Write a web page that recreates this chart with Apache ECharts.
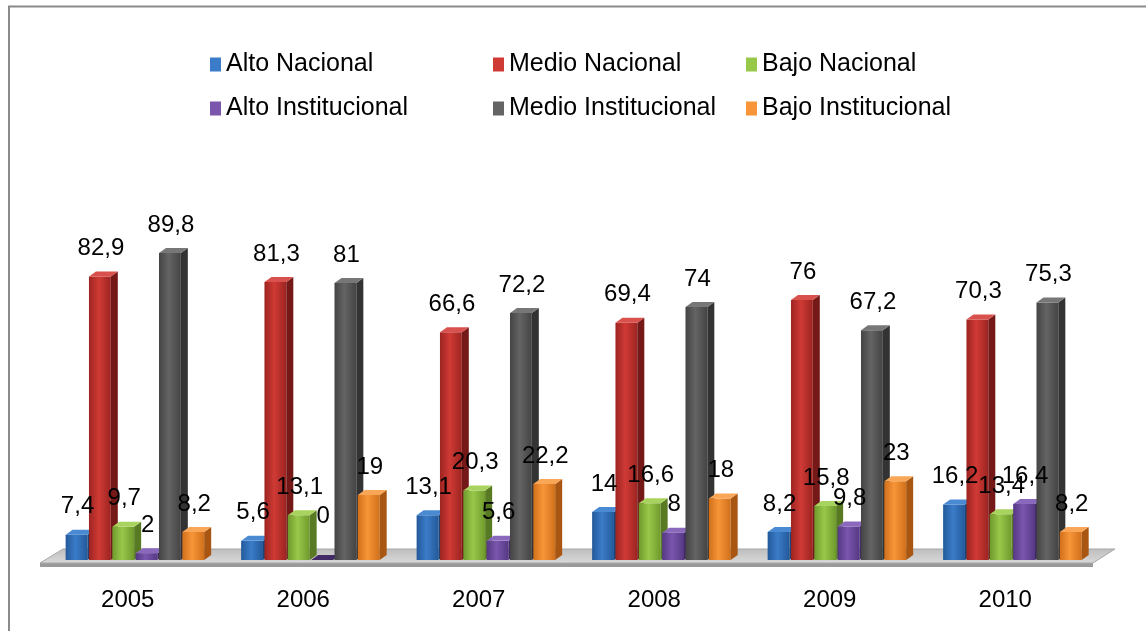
<!DOCTYPE html>
<html>
<head>
<meta charset="utf-8">
<script src="https://cdn.jsdelivr.net/npm/echarts@6/dist/echarts.min.js"></script>
<style>
  html, body { margin: 0; padding: 0; background: #fff; }
  #main { width: 1146px; height: 631px; }
</style>
</head>
<body>
<div id="main"></div>
<script>
var years = ['2005', '2006', '2007', '2008', '2009', '2010'];
var seriesNames = ['Alto Nacional', 'Medio Nacional', 'Bajo Nacional', 'Alto Institucional', 'Medio Institucional', 'Bajo Institucional'];
var altoNacional = [7.4, 5.6, 13.1, 14, 8.2, 16.2];
var medioNacional = [82.9, 81.3, 66.6, 69.4, 76, 70.3];
var bajoNacional = [9.7, 13.1, 20.3, 16.6, 15.8, 13.4];
var altoInstitucional = [2, 0, 5.6, 8, 9.8, 16.4];
var medioInstitucional = [89.8, 81, 72.2, 74, 67.2, 75.3];
var bajoInstitucional = [8.2, 19, 22.2, 18, 23, 8.2];

var allValues = [altoNacional, medioNacional, bajoNacional, altoInstitucional, medioInstitucional, bajoInstitucional];

// front / light / side / top shades per series
var shades = [
  { dark: '#23599a', light: '#3b7cc8', side: '#1b4478', top: '#4a8ad3' },
  { dark: '#9c2421', light: '#d03a35', side: '#741917', top: '#d9514c' },
  { dark: '#6f9a2c', light: '#98c84a', side: '#587a22', top: '#a8d35e' },
  { dark: '#553884', light: '#7a56ad', side: '#412a66', top: '#8a68bb' },
  { dark: '#444444', light: '#646464', side: '#333333', top: '#777777' },
  { dark: '#d0701a', light: '#f79538', side: '#a85612', top: '#f9a757' }
];

var chartDom = document.getElementById('main');
var myChart = echarts.init(chartDom);
var option;

var depthX = 7, depthY = 5;
var fontFam = '"Liberation Sans", Arial, sans-serif';

function fmt(v) {
  return String(v).replace('.', ',');
}

function makeRender(k) {
  return function (params, api) {
    var idx = api.value(0);
    var val = api.value(1);
    var base = api.coord([idx, 0]);
    var top = api.coord([idx, val]);
    var band = api.size([1, 0])[0];
    var slot = band * 0.133;
    var x0 = base[0] - 3 * slot + k * slot + band * 0.045;
    var w = slot - 1.5;
    var y0 = base[1];
    var y1 = top[1];
    var s = shades[k];
    var children = [];
    if (y0 - y1 > 0.5) {
      children.push({
        type: 'rect',
        shape: { x: x0, y: y1, width: w, height: y0 - y1 },
        style: {
          fill: new echarts.graphic.LinearGradient(0, 0, 1, 0, [
            { offset: 0, color: s.dark },
            { offset: 0.45, color: s.light },
            { offset: 1, color: s.dark }
          ])
        }
      });
      children.push({
        type: 'polygon',
        shape: { points: [[x0 + w, y1], [x0 + w + depthX, y1 - depthY], [x0 + w + depthX, y0 - depthY], [x0 + w, y0]] },
        style: { fill: s.side }
      });
    }
    children.push({
      type: 'polygon',
      shape: { points: [[x0, y1], [x0 + depthX, y1 - depthY], [x0 + w + depthX, y1 - depthY], [x0 + w, y1]] },
      style: { fill: val > 0 ? s.top : s.side }
    });
    children.push({
      type: 'text',
      style: {
        text: fmt(val),
        x: x0 + w / 2 + 1,
        y: y1 - (val > 0 ? 16 : 32),
        align: 'center',
        verticalAlign: 'bottom',
        fill: '#000',
        font: '24px ' + fontFam
      },
      z2: 100
    });
    return { type: 'group', children: children };
  };
}

var legendLefts = [210, 493, 746];
var legends = seriesNames.map(function (name, i) {
  return {
    data: [name],
    left: legendLefts[i % 3],
    top: i < 3 ? 52 : 96,
    padding: 0,
    itemWidth: 11,
    itemHeight: 14,
    icon: 'rect',
    textStyle: { fontSize: 25, color: '#000', fontFamily: fontFam }
  };
});

var series = allValues.map(function (arr, k) {
  return {
    name: seriesNames[k],
    type: 'custom',
    renderItem: makeRender(k),
    itemStyle: { color: shades[k].light },
    encode: { x: 0, y: 1 },
    data: arr.map(function (v, i) { return [i, v]; })
  };
});

option = {
  animation: false,
  color: shades.map(function (s) { return s.light; }),
  legend: legends,
  grid: {
    left: 40,
    right: 53,
    top: 218,
    bottom: 71
  },
  xAxis: {
    type: 'category',
    data: years,
    axisLine: { show: false },
    axisTick: { show: false },
    axisLabel: {
      margin: 28,
      fontSize: 24,
      color: '#000',
      fontFamily: fontFam
    }
  },
  yAxis: {
    type: 'value',
    min: 0,
    max: 100,
    show: false
  },
  graphic: [
    {
      type: 'rect',
      shape: { x: 9, y: 6.5, width: 1300, height: 800 },
      style: { fill: 'none', stroke: '#8a8a8a', lineWidth: 2 },
      silent: true
    },
    {
      type: 'polygon',
      shape: { points: [[40, 567], [1093, 567], [1093, 563], [40, 563]] },
      style: { fill: '#9a9a9a' },
      silent: true,
      z: -1
    },
    {
      type: 'polygon',
      shape: { points: [[40, 563], [1093, 563], [1115, 549], [63, 549]] },
      style: {
        fill: new echarts.graphic.LinearGradient(0, 0, 0, 1, [
          { offset: 0, color: '#bdbdbd' },
          { offset: 1, color: '#dadada' }
        ]),
        stroke: '#a8a8a8',
        lineWidth: 1
      },
      silent: true,
      z: -1
    }
  ],
  series: series
};

option && myChart.setOption(option);
</script>
</body>
</html>
